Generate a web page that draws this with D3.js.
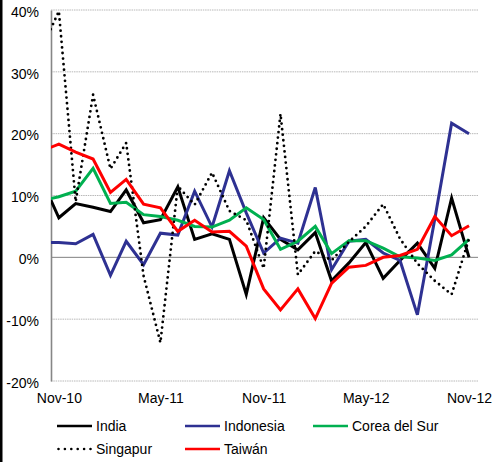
<!DOCTYPE html>
<html>
<head>
<meta charset="utf-8">
<script src="https://cdn.jsdelivr.net/npm/d3@7"></script>
<style>
  body { margin: 0; background: #fff; }
  text { font-family: Arial, "Liberation Sans", sans-serif; }
</style>
</head>
<body>
<svg id="chart" width="492" height="462"></svg>
<script>
// months from Oct-10 to Nov-12 (the Oct-10 point is cut by the left edge of the plot)
const months = d3.range(26).map(i => new Date(2010, 9 + i, 1))

const india = [12.6, 6.4, 8.7, 8.1, 7.4, 10.9, 5.6, 6.1, 11.4, 2.9, 3.8, 2.9, -6.0, 6.4, 2.9, 1.2, 4.0, -3.8, -0.9, 2.4, -3.4, -0.5, 2.3, -1.8, 9.6, 0.0]
const indonesia = [2.4, 2.4, 2.2, 3.7, -2.9, 2.6, -1.2, 3.9, 3.6, 10.7, 4.9, 14.0, 7.2, 0.7, 3.1, 2.3, 11.3, -2.0, 2.6, 2.9, 0.7, -0.5, -9.3, 6.2, 21.7, 20.0]
const corea = [9.2, 9.8, 10.7, 14.4, 8.7, 8.9, 6.9, 6.6, 6.0, 5.0, 4.9, 6.0, 8.0, 6.1, 1.3, 2.6, 5.0, 0.6, 2.7, 2.7, 1.5, 0.1, -0.1, -0.5, 0.4, 2.9]
const singapur = [33.6, 39.8, 9.0, 26.3, 14.3, 18.5, -3.0, -13.8, 11.5, 8.5, 13.7, 7.5, 6.0, -1.8, 23.2, -2.8, 1.0, -0.5, 2.5, 5.0, 8.6, 3.0, -1.0, -3.8, -6.0, 3.0]
const taiwan = [17.2, 18.3, 17.0, 15.9, 10.5, 12.6, 8.6, 8.0, 4.2, 6.0, 4.1, 4.2, 1.8, -5.1, -8.5, -5.1, -9.9, -4.2, -1.6, -1.3, 0.0, 0.3, 1.3, 6.6, 3.5, 5.1]

const seriesNames = ['India', 'Indonesia', 'Corea del Sur', 'Singapur', 'Taiwán']
const seriesValues = [india, indonesia, corea, singapur, taiwan]
const seriesColors = ['#000000', '#2e3192', '#00b050', '#000000', '#ff0000']
const seriesDotted = [false, false, false, true, false]

const yTicks = [-20, -10, 0, 10, 20, 30, 40]
const xTicks = [new Date(2010, 10, 1), new Date(2011, 4, 1), new Date(2011, 10, 1), new Date(2012, 4, 1), new Date(2012, 10, 1)]

const svg = d3.select('#chart')
const plotLeft = 51
const plotRight = 478
const plotTop = 10
const plotBottom = 381

const xScale = d3.scaleTime()
  .domain([new Date(2010, 9, 18), new Date(2012, 10, 17)])
  .range([plotLeft, plotRight])
const yScale = d3.scaleLinear().domain([-20, 40]).range([plotBottom, plotTop])

/**
 * Draws the horizontal gridlines (the zero line is drawn with the X axis)
 */
function drawGrid () {
  svg.append('g')
    .selectAll('line')
    .data(yTicks.filter(t => t !== 0))
    .enter()
    .append('line')
    .attr('x1', plotLeft)
    .attr('x2', plotRight)
    .attr('y1', d => yScale(d))
    .attr('y2', d => yScale(d))
    .attr('stroke', '#b8b8b8')
    .attr('stroke-width', 1)
    .attr('stroke-dasharray', '1.5 0.8')
}

/**
 * Draws the Y axis to the left with percent labels
 */
function drawYAxis () {
  const axis = svg.append('g')
    .attr('transform', `translate(${plotLeft}, 0)`)
    .call(d3.axisLeft(yScale).tickValues(yTicks).tickSize(0).tickPadding(12).tickFormat(d => d + '%'))
  axis.select('.domain').attr('stroke', '#868686').attr('stroke-width', 1.6)
  axis.selectAll('text').style('font-size', '14px').attr('fill', '#000').attr('dy', '0.45em')
}

/**
 * Draws the X axis: the line crosses at 0 and the labels sit at the bottom
 */
function drawXAxis () {
  svg.append('line')
    .attr('x1', plotLeft)
    .attr('x2', plotRight)
    .attr('y1', yScale(0))
    .attr('y2', yScale(0))
    .attr('stroke', '#808080')
    .attr('stroke-width', 1)

  const axis = svg.append('g')
    .attr('transform', `translate(0, ${plotBottom})`)
    .call(d3.axisBottom(xScale).tickValues(xTicks).tickSize(0).tickPadding(12).tickFormat(d3.timeFormat('%b-%y')))
  axis.select('.domain').remove()
  axis.selectAll('text').style('font-size', '14px').attr('fill', '#000')
}

/**
 * Draws one line per country, clipped to the plot area
 */
function drawLines () {
  svg.append('clipPath')
    .attr('id', 'plot-clip')
    .append('rect')
    .attr('x', plotLeft)
    .attr('y', 0)
    .attr('width', plotRight - plotLeft)
    .attr('height', plotBottom + 10)

  const line = d3.line()
    .x(d => xScale(d.date))
    .y(d => yScale(d.value))

  const g = svg.append('g').attr('clip-path', 'url(#plot-clip)')
  seriesValues.forEach((values, i) => {
    const points = values.map((v, j) => ({ date: months[j], value: v }))
    const path = g.append('path')
      .datum(points)
      .attr('d', line)
      .attr('fill', 'none')
      .attr('stroke', seriesColors[i])
    if (seriesDotted[i]) {
      path.attr('stroke-width', 2.8)
        .attr('stroke-dasharray', '0 5.6')
        .attr('stroke-linecap', 'round')
    } else {
      path.attr('stroke-width', 3)
    }
  })
}

/**
 * Draws the legend in two rows of three columns
 */
function drawLegend () {
  const colX = [57, 185, 313]
  const rowY = [426, 449]
  seriesNames.forEach((name, i) => {
    const x = colX[i % 3]
    const y = rowY[Math.floor(i / 3)]
    const item = svg.append('g').attr('transform', `translate(${x}, ${y})`)
    const sample = item.append('line')
      .attr('x1', 0)
      .attr('x2', 35)
      .attr('stroke', seriesColors[i])
    if (seriesDotted[i]) {
      sample.attr('x1', 1.5).attr('stroke-width', 2.6).attr('stroke-dasharray', '0 6.4').attr('stroke-linecap', 'round')
    } else {
      sample.attr('stroke-width', 2.4)
    }
    item.append('text')
      .attr('x', 39)
      .attr('y', 5)
      .style('font-size', '14px')
      .text(name)
  })
}

svg.append('rect').attr('x', 0).attr('y', 0).attr('width', 2.5).attr('height', 462).attr('fill', '#000')
drawGrid()
drawXAxis()
drawYAxis()
drawLines()
drawLegend()
</script>
</body>
</html>
